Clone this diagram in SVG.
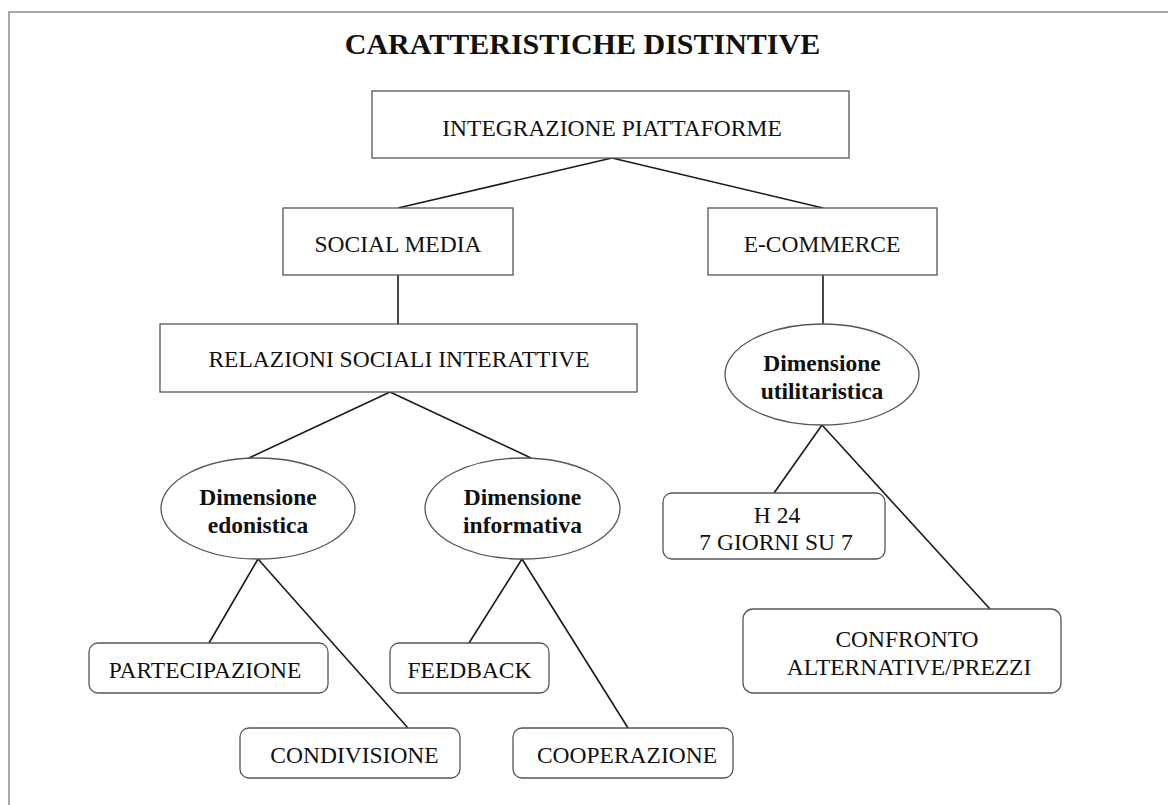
<svg xmlns="http://www.w3.org/2000/svg" width="1168" height="805" viewBox="0 0 1168 805">
  <style>
    .frame { fill: #ffffff; stroke: #8a8a8a; stroke-width: 1.5; }
    .box { fill: #ffffff; stroke: #555555; stroke-width: 1.3; }
    .oval { fill: #ffffff; stroke: #555555; stroke-width: 1.3; }
    .link { stroke: #1a1a1a; stroke-width: 1.6; fill: none; }
    .label { font-family: "Liberation Serif", "Times New Roman", serif; font-size: 23.5px; fill: #111111; text-anchor: middle; }
    .bold { font-family: "Liberation Serif", "Times New Roman", serif; font-size: 23.5px; font-weight: bold; fill: #111111; text-anchor: middle; }
    .title { font-family: "Liberation Serif", "Times New Roman", serif; font-size: 30px; font-weight: bold; fill: #111111; text-anchor: middle; }
  </style>

  <rect x="0" y="0" width="1168" height="805" fill="#ffffff"/>
  <!-- outer frame, running off the right and bottom edges -->
  <rect class="frame" x="9" y="12" width="1180" height="820"/>

  <text class="title" x="582.5" y="54">CARATTERISTICHE DISTINTIVE</text>

  <g id="connectors">
    <line class="link" x1="612" y1="158" x2="398" y2="208"/>
    <line class="link" x1="612" y1="158" x2="823" y2="208"/>
    <line class="link" x1="398" y1="275" x2="398" y2="324"/>
    <line class="link" x1="823" y1="275" x2="823" y2="324"/>
    <line class="link" x1="390" y1="392" x2="249" y2="458"/>
    <line class="link" x1="390" y1="392" x2="531" y2="458"/>
    <line class="link" x1="258" y1="559" x2="209" y2="643"/>
    <line class="link" x1="258" y1="559" x2="408" y2="728"/>
    <line class="link" x1="522" y1="559" x2="469" y2="643"/>
    <line class="link" x1="522" y1="559" x2="628" y2="728"/>
    <line class="link" x1="822" y1="425" x2="774" y2="493"/>
    <line class="link" x1="822" y1="425" x2="990" y2="609"/>
  </g>

  <g id="integrazione">
    <rect class="box" x="372" y="91" width="477" height="67"/>
    <text class="label" x="612" y="136">INTEGRAZIONE PIATTAFORME</text>
  </g>

  <g id="social-media">
    <rect class="box" x="283" y="208" width="230" height="67"/>
    <text class="label" x="398" y="252">SOCIAL MEDIA</text>
  </g>

  <g id="e-commerce">
    <rect class="box" x="708" y="208" width="229" height="67"/>
    <text class="label" x="822" y="252">E-COMMERCE</text>
  </g>

  <g id="relazioni">
    <rect class="box" x="160" y="324" width="477" height="68"/>
    <text class="label" x="399" y="367">RELAZIONI SOCIALI INTERATTIVE</text>
  </g>

  <g id="utilitaristica">
    <ellipse class="oval" cx="822" cy="374.5" rx="97" ry="50.5"/>
    <text class="bold" x="822" y="371">Dimensione</text>
    <text class="bold" x="822" y="399">utilitaristica</text>
  </g>

  <g id="edonistica">
    <ellipse class="oval" cx="258" cy="508.5" rx="97" ry="50.5"/>
    <text class="bold" x="258" y="505">Dimensione</text>
    <text class="bold" x="258" y="533">edonistica</text>
  </g>

  <g id="informativa">
    <ellipse class="oval" cx="522.5" cy="508.5" rx="97.5" ry="50.5"/>
    <text class="bold" x="522.5" y="505">Dimensione</text>
    <text class="bold" x="522.5" y="533">informativa</text>
  </g>

  <g id="h24">
    <rect class="box" x="663" y="493" width="222" height="66" rx="9"/>
    <text class="label" x="777" y="523">H 24</text>
    <text class="label" x="776" y="550">7 GIORNI SU 7</text>
  </g>

  <g id="confronto">
    <rect class="box" x="743" y="609" width="318" height="84" rx="10"/>
    <text class="label" x="907" y="647">CONFRONTO</text>
    <text class="label" x="909" y="675">ALTERNATIVE/PREZZI</text>
  </g>

  <g id="partecipazione">
    <rect class="box" x="89" y="643" width="239" height="50" rx="9"/>
    <text class="label" x="205" y="678">PARTECIPAZIONE</text>
  </g>

  <g id="feedback">
    <rect class="box" x="390" y="643" width="159" height="50" rx="9"/>
    <text class="label" x="469.5" y="678">FEEDBACK</text>
  </g>

  <g id="condivisione">
    <rect class="box" x="240" y="728" width="220" height="50" rx="9"/>
    <text class="label" x="354.5" y="763">CONDIVISIONE</text>
  </g>

  <g id="cooperazione">
    <rect class="box" x="513" y="728" width="220" height="50" rx="9"/>
    <text class="label" x="627" y="763">COOPERAZIONE</text>
  </g>
</svg>
